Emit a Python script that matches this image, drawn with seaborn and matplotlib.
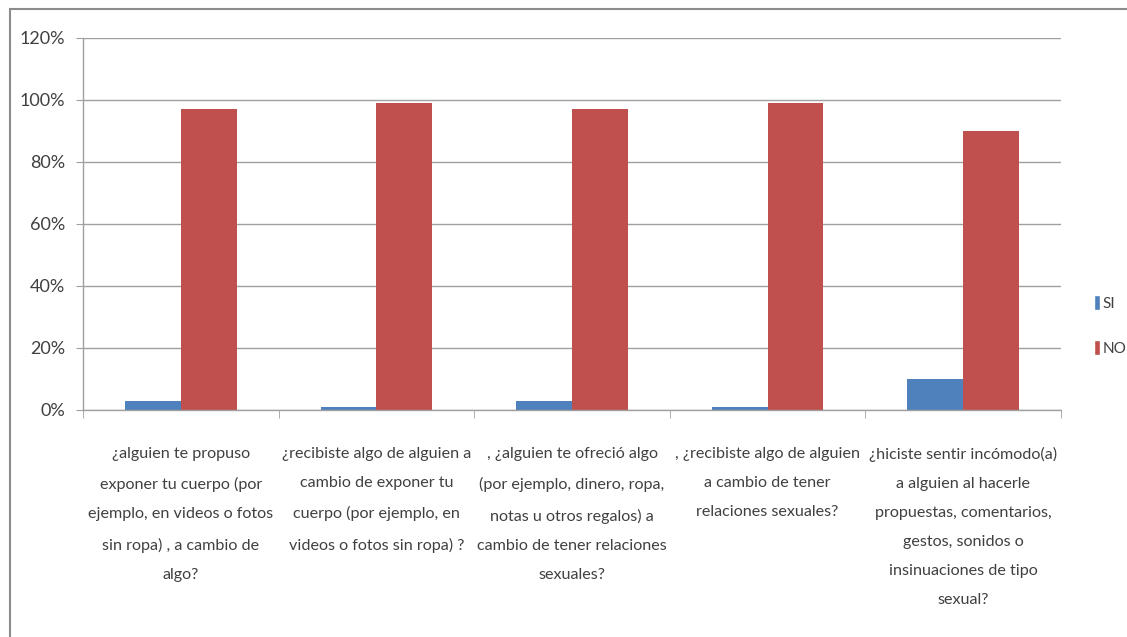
import pandas as pd
import matplotlib
matplotlib.use("Agg")
import matplotlib.pyplot as plt
import seaborn as sns
from matplotlib.patches import Patch, Rectangle
from matplotlib.ticker import PercentFormatter

# preguntas (etiquetas del eje x, partidas como en la imagen)
preguntas = [
    "¿alguien te propuso\nexponer tu cuerpo (por\nejemplo, en videos o fotos\nsin ropa) , a cambio de\nalgo?",
    "¿recibiste algo de alguien a\ncambio de exponer tu\ncuerpo (por ejemplo, en\nvideos o fotos sin ropa) ?",
    ", ¿alguien te ofreció algo\n(por ejemplo, dinero, ropa,\nnotas u otros regalos) a\ncambio de tener relaciones\nsexuales?",
    ", ¿recibiste algo de alguien\na cambio de tener\nrelaciones sexuales?",
    "¿hiciste sentir incómodo(a)\na alguien al hacerle\npropuestas, comentarios,\ngestos, sonidos o\ninsinuaciones de tipo\nsexual?",
]
si = [3, 1, 3, 1, 10]
no = [97, 99, 97, 99, 90]
series = ["SI", "NO"]
colores = {"SI": "#4F81BD", "NO": "#C0504D"}

df = pd.DataFrame({
    "pregunta": preguntas * 2,
    "respuesta": ["SI"] * len(si) + ["NO"] * len(no),
    "valor": si + no,
})

sns.set_style("white")
plt.rcParams["font.family"] = ["Lato", "DejaVu Sans"]
txt = "#404040"

fig = plt.figure(figsize=(11.27, 6.37), dpi=100)
ax = fig.add_axes([0.0737, 0.3564, 0.8677, 0.5840])

sns.barplot(data=df, x="pregunta", y="valor", hue="respuesta", hue_order=series,
            palette=colores, width=0.57, gap=0, saturation=1, ax=ax, legend=False,
            edgecolor="none")

ax.set_ylim(0, 120)
ax.set_xlim(-0.5, 4.5)
ax.set_yticks(range(0, 121, 20))
ax.yaxis.set_major_formatter(PercentFormatter(decimals=0))
ax.yaxis.grid(True, color="#a0a0a0", linewidth=1)
ax.set_axisbelow(True)
ax.set_xlabel("")
ax.set_ylabel("")

for s in ["top", "right"]:
    ax.spines[s].set_visible(False)
for s in ["left", "bottom"]:
    ax.spines[s].set_color("#a0a0a0")
    ax.spines[s].set_linewidth(1)

ax.tick_params(axis="y", left=True, length=5, color="#a0a0a0", labelsize=13,
               labelcolor=txt, pad=8)
ax.tick_params(axis="x", bottom=False, labelsize=11.6, labelcolor=txt, pad=23)
ax.set_xticks(range(5))
ax.set_xticklabels(preguntas, linespacing=2.36, va="top")
# marcas entre categorías
ax.set_xticks([i - 0.5 for i in range(6)], minor=True)
ax.tick_params(axis="x", which="minor", bottom=True, length=6, color="#a0a0a0")

handles = [Patch(facecolor=colores[k], label=k) for k in series]
fig.legend(handles=handles, loc="center left", bbox_to_anchor=(0.9705, 0.489),
           frameon=False, handlelength=0.4, handleheight=1.1, handletextpad=0.15,
           labelspacing=1.9, fontsize=11, labelcolor=txt, borderaxespad=0,
           borderpad=0)

# marco exterior del gráfico
fig.patches.append(Rectangle((10 / 1127, -0.1), 1.2, 1 - 9 / 637 + 0.1,
                             transform=fig.transFigure, fill=False,
                             edgecolor="#8c8c8c", linewidth=1.5))

fig.savefig("out.png", dpi=100)
